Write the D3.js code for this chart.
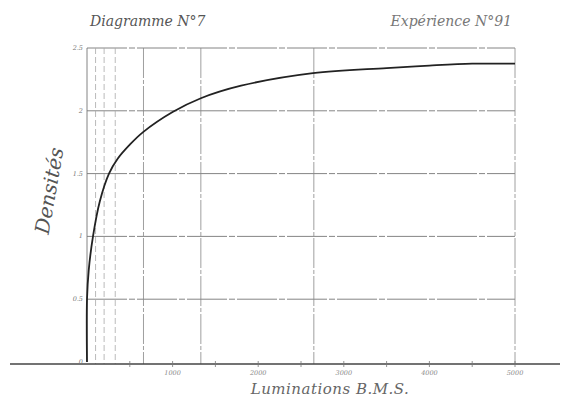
<!DOCTYPE html>
<html>
<head>
<meta charset="utf-8">
<script src="https://cdn.jsdelivr.net/npm/d3@7"></script>
<style>
  body { margin: 0; background: #fff; }
</style>
</head>
<body>
<div id="chart"></div>
<script>
// data
const lumination = [0, 0, 20, 70, 150, 257, 360, 500, 655, 1000, 1330, 1800, 2640, 3500, 4000, 4500, 5000];
const densite    = [0, 0.5, 0.73, 1.0, 1.28, 1.5, 1.62, 1.73, 1.83, 1.99, 2.1, 2.2, 2.30, 2.34, 2.36, 2.375, 2.375];
const xTicks = [1000, 2000, 3000, 4000, 5000];
const xMinor = [500, 1500, 2500, 3500, 4500];
const yTicks = [0, 0.5, 1, 1.5, 2, 2.5];
const yLabels = ["0", "0.5", "1", "1.5", "2", "2.5"];
const xGrid = [100, 200, 330, 660, 1330, 2650, 5000];

const W = 566, H = 402;
const FONT = "'DejaVu Serif', 'Liberation Serif', serif";
const x = d3.scaleLinear().domain([0, 5000]).range([87, 515]);
const y = d3.scaleLinear().domain([0, 2.5]).range([362, 48]);

const svg = d3.select("#chart").append("svg")
    .attr("width", W).attr("height", H)
    .attr("font-family", FONT);

// horizontal grid
svg.append("g").selectAll("line")
    .data(yTicks.slice(1))
    .join("line")
    .attr("x1", x(0)).attr("x2", x(5000))
    .attr("y1", d => y(d)).attr("y2", d => y(d))
    .attr("stroke", "#777")
    .attr("stroke-width", 0.9)
    .attr("stroke-dasharray", "40,2,6,2");

// vertical grid
svg.append("g").selectAll("line")
    .data(xGrid)
    .join("line")
    .attr("x1", d => x(d)).attr("x2", d => x(d))
    .attr("y1", y(2.5)).attr("y2", y(0) + 2)
    .attr("stroke", (d, i) => i < 3 ? "#aaa" : "#888")
    .attr("stroke-width", 0.8)
    .attr("stroke-dasharray", (d, i) => i < 3 ? "6,3" : "30,2,4,2");

// left edge
svg.append("line")
    .attr("x1", x(0)).attr("x2", x(0))
    .attr("y1", y(2.5)).attr("y2", y(0))
    .attr("stroke", "#777").attr("stroke-width", 0.9);

// baseline
svg.append("line")
    .attr("x1", 10).attr("x2", 560)
    .attr("y1", y(0) + 2).attr("y2", y(0) + 2)
    .attr("stroke", "#444").attr("stroke-width", 1.4);

// x ticks
svg.append("g").selectAll("line")
    .data(xTicks.concat(xMinor))
    .join("line")
    .attr("x1", d => x(d)).attr("x2", d => x(d))
    .attr("y1", y(0) - 1).attr("y2", y(0) + 5)
    .attr("stroke", "#777").attr("stroke-width", 0.8);

svg.append("g").selectAll("text")
    .data(xTicks)
    .join("text")
    .attr("x", d => x(d)).attr("y", y(0) + 13)
    .attr("text-anchor", "middle")
    .attr("font-size", 6.5)
    .attr("font-style", "italic")
    .attr("fill", "#888")
    .text(d => d);

// y tick labels
svg.append("g").selectAll("text")
    .data(yTicks)
    .join("text")
    .attr("x", x(0) - 4).attr("y", d => y(d) + 2)
    .attr("text-anchor", "end")
    .attr("font-size", 6.5)
    .attr("font-style", "italic")
    .attr("fill", "#777")
    .text((d, i) => yLabels[i]);

// curve
const pts = lumination.map((l, i) => [l, densite[i]]);
svg.append("path")
    .datum(pts)
    .attr("fill", "none")
    .attr("stroke", "#222")
    .attr("stroke-width", 1.8)
    .attr("d", d3.line().x(d => x(d[0])).y(d => y(d[1])).curve(d3.curveCatmullRom.alpha(0.5)));

// titles
svg.append("text")
    .attr("x", 90).attr("y", 26)
    .attr("font-size", 14).attr("font-style", "italic")
    .attr("fill", "#555")
    .text("Diagramme N°7");

svg.append("text")
    .attr("x", 512).attr("y", 26)
    .attr("text-anchor", "end")
    .attr("font-size", 14).attr("font-style", "italic")
    .attr("fill", "#777")
    .text("Expérience N°91");

svg.append("text")
    .attr("transform", "translate(56,192) rotate(-80)")
    .attr("text-anchor", "middle")
    .attr("font-size", 20).attr("font-style", "italic")
    .attr("fill", "#555")
    .text("Densités");

svg.append("text")
    .attr("x", 330).attr("y", 394)
    .attr("text-anchor", "middle")
    .attr("font-size", 15).attr("font-style", "italic")
    .attr("fill", "#666")
    .attr("letter-spacing", 0.5)
    .text("Luminations B.M.S.");
</script>
</body>
</html>
